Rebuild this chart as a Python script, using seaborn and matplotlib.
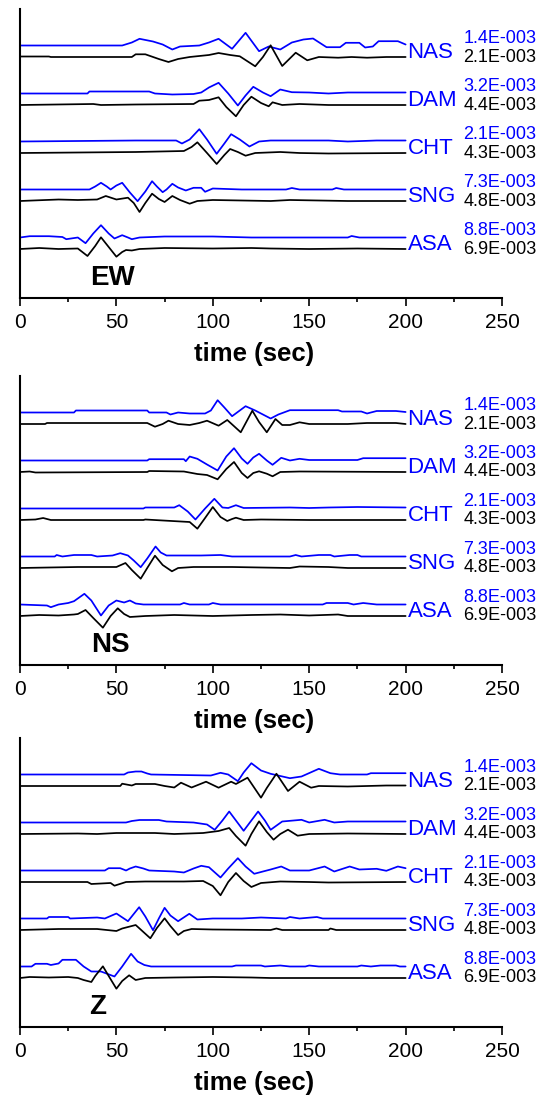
import numpy as np
import pandas as pd
import matplotlib
matplotlib.use("Agg")
import matplotlib.pyplot as plt
import seaborn as sns

sns.set_theme(style="ticks")
plt.rcParams["font.family"] = ["Liberation Sans", "DejaVu Sans"]
plt.rcParams["text.color"] = "black"
plt.rcParams["axes.labelcolor"] = "black"
plt.rcParams["xtick.color"] = "black"

# stations top -> bottom, amplitude scale labels (observed blue / synthetic black)
stations = ["NAS", "DAM", "CHT", "SNG", "ASA"]
amp_obs = ["1.4E-003", "3.2E-003", "2.1E-003", "7.3E-003", "8.8E-003"]
amp_syn = ["2.1E-003", "4.4E-003", "4.3E-003", "4.8E-003", "6.9E-003"]
components = ["EW", "NS", "Z"]
xticks = [0, 50, 100, 150, 200, 250]

# waveforms: (time sec, deflection) pairs
EW_NAS_OBS = [(0, 0), (53, 0), (58, 3), (62, 6.7), (69, 4), (74, 1), (79, -4), (83, -1), (93, 0), (98, 3),
              (103, 6.7), (110, -3.3), (117, 12.7), (124, -5.7), (129, -1), (135, -4), (141, 3), (147, 6),
              (152, 7), (159, -1.7), (166, -1.7), (169, 2.7), (176, 2.7), (179, -2), (183, -1), (186, 4.3),
              (196, 4.3), (200, 1)]
EW_NAS_SYN = [(0, 0.5), (15, 0.5), (16, 0), (58, 0), (60, 2.7), (65, 2.7), (72, -2), (77, -5), (82, -2),
              (88, 0), (93, 1), (98, 2), (103, 4), (109, 2), (114, 0.7), (122, -9.3), (126, 0), (130, 11.7),
              (136, -9), (143, 4.3), (149, -3.3), (155, 0), (165, -0.7), (172, 0), (180, -0.7), (190, 0), (200, 0)]
EW_DAM_OBS = [(0, 0), (35, 0), (36, 2), (67, 2), (70, 0), (79, -1), (90, -0.5), (94, 1), (98, 6), (103, 10.7),
              (108, 0), (113, -12), (117, -2), (121, 6.7), (126, 1), (130, -2.7), (135, 4), (141, 1.3),
              (150, 1), (160, 0), (170, 1), (180, 1), (200, 1)]
EW_DAM_SYN = [(0, 0), (38, 1), (42, 0), (60, 0.5), (90, 1), (93, 4.3), (98, 5), (103, 7.7), (107, -2),
              (112, -11.3), (116, 0), (120, 8.3), (125, 2), (129, -1.3), (131, 2.7), (136, 0), (145, 1),
              (160, 0), (200, 0)]
EW_CHT_OBS = [(0, 0), (60, 1), (81, 1), (84, -2), (88, 2), (93, 12.3), (97, 2), (102, -12.3), (106, -2),
              (109.5, 7.3), (114, 2), (119, -5), (124, 0), (130, 1), (160, 1), (170, 0), (185, 1), (200, 1)]
EW_CHT_SYN = [(0, 0), (60, 1), (85, 2), (89, 6), (92, 10.7), (97, 0), (102, -11), (106, -2), (109, 4),
              (113, 1), (117, -2.7), (122, 0), (135, 1), (145, 0), (160, -0.5), (200, 0)]
EW_SNG_OBS = [(0, 0), (36, 0), (39, 3), (42, 6.7), (45, 3), (47, 0), (50, 4), (53, 6.7), (57, -3),
              (61, -11.7), (65, -2), (68.5, 8.3), (71, 3), (74, -2.7), (76, 0), (79, 5.7), (82, 2), (86, -1),
              (90, 1.7), (94, 1.7), (96, -2.3), (100, 1), (115, 0), (138, 0), (141, 1.5), (145, 0), (162, 0),
              (164, 1.5), (168, 0), (200, 0)]
EW_SNG_SYN = [(0, 0), (20, 1.5), (30, 1), (40, 1.5), (44.5, 5), (50, 1.5), (56, 3.3), (59, -2), (62, -11),
              (65, -2), (68.5, 7.3), (72, 2), (75, -1), (79, 5), (83, 1), (88, -2.7), (92, 0), (100, 1),
              (130, 0), (140, 1), (170, 0), (200, 0)]
EW_ASA_OBS = [(0, 0), (5, 1.3), (15, 1.3), (22, 0.5), (24, -1.7), (30, 0), (34, -5.7), (38, 4), (42, 12.3),
              (46, 4), (49, -1), (53, 2.3), (56, 0), (58, -1.7), (62, 0), (75, 1), (100, 1), (120, 0),
              (170, 0), (172, 1.5), (176, 0), (200, 0)]
EW_ASA_SYN = [(0, 0), (10, 1), (20, 0), (30, 0.5), (35, -7), (39, 3), (42, 11.7), (46, 2), (50, -7.7),
              (53, -3), (55, -1), (58, -1.5), (62, 0), (75, 1), (100, 0.5), (120, 1), (130, 0.5), (150, 0),
              (175, 0.5), (200, 0)]

NS_NAS_OBS = [(0, 0), (28, 0), (29, 2), (66, 2), (67, 0), (76, 0), (78, -2), (82, 0), (88, -1), (96, -1),
              (99, 2), (102.5, 12.3), (106, 5), (110, -3.7), (117, 6.3), (122, 2), (125, -1), (130, -6),
              (134, -2), (140, 2.3), (165, 2.3), (167, 1), (177, 1), (180, -1), (185, 1.5), (195, 1.5),
              (200, 0.5)]
NS_NAS_SYN = [(0, 0), (13, 0), (14, 1), (66, 1), (70, -2.7), (74, 0), (77, 3.3), (82, 0), (88, -1), (93, 1),
              (97, 3.3), (103, -1.7), (107.5, 4), (114.5, -8.3), (120.5, 13.3), (124, 2), (128, -8.3),
              (132.5, 5), (136, -1), (140, -1), (145, 1.7), (150, 0), (170, 0), (180, 1), (195, 1), (200, 0)]
NS_DAM_OBS = [(0, 0), (66, 0), (67, 1.3), (85, 1.3), (86, -0.7), (88, 4), (92, 1.7), (97, -4), (102.5, -10),
              (107, 4), (111, 12.3), (115, 2), (118, -3.3), (121, 3), (124, 6.7), (128, 0), (131, -4.3),
              (135.5, 2.7), (140, 0), (145, 1.7), (150, 0.5), (175, 0.5), (178, 2.3), (200, 2.3)]
NS_DAM_SYN = [(0, 0), (5, 0.5), (8, -0.5), (66, 0), (67, 1), (85, 0.5), (92, -2), (97, -3), (102.5, -7.3),
              (107, 3), (111, 10), (115, -1), (118, -6), (121, -1), (124, 0.7), (128, -1.7), (131, -4.3),
              (135, 0), (145, 0.5), (200, 0)]
NS_CHT_OBS = [(0, 0), (64, 0), (65, 1), (80, 1), (82.6, 3.3), (87, -3), (91, -11), (96, 0), (100.8, 9.7),
              (105, 1), (108, 0.5), (112, 3.3), (116, 0.5), (140, 1), (150, 0.5), (160, 1), (175, 1.5), (200, 1)]
NS_CHT_SYN = [(0, 0), (8, 0.5), (12, 2), (16, 0), (64, 0), (65, 0.5), (88, -2), (92, -8.7), (96, 2),
              (100, 13), (104, 3), (107.5, -1), (110, 1), (112, 2.3), (116, 0), (125, 0.5), (150, 0), (200, 0)]
NS_SNG_OBS = [(0, 0), (18, 0), (19, 1.5), (22, 0), (28, 1.5), (37, 1.5), (40, 0), (48, 1), (52, 3.3),
              (56, 1), (59, -4), (62.6, -10.7), (66, -2), (70.3, 10), (73, 4), (76, 1), (80, 1), (94, 1),
              (104, 1.5), (110, 0), (140, 0), (143, 1.5), (146, 0), (155, 1.5), (161, 1.5), (163, 0),
              (171, 1.5), (175, 1.5), (177, 0), (200, 0)]
NS_SNG_SYN = [(0, 0), (30, 1), (50, 1), (54.7, 5), (58, -2), (62.6, -10.7), (66, 0), (70, 12.3), (74, 3),
              (78.8, -3.3), (82, 0), (90, 1), (110, 1), (140, 0), (145, 1.5), (160, 1), (170, 0), (200, 0)]
NS_ASA_OBS = [(0, 0), (14, -1), (16, -2.7), (20, 0), (25, 1.5), (28, 3.3), (33.4, 10.7), (37, 4), (42, -11),
              (46, -1), (50, 4), (54, 2), (57, 4), (60, 1), (64, 0), (83, 0), (85, 1.5), (88, 0), (98, 0),
              (100, 1.5), (104, 0), (157, 0), (159, 1.5), (170, 1.5), (173, 0), (178, 1.5), (185, 0), (200, 0)]
NS_ASA_SYN = [(0, 0), (10, 1), (20, 0.5), (28, 1.5), (30, 2), (34, 6), (38, -2), (43, -11.7), (47, 0),
              (50.7, 7.7), (54, 2), (57, -1), (65, 0), (80, 1), (100, 0), (120, 1), (135, 1.5), (150, 0.5),
              (165, 1.5), (170, 0), (200, 0)]

Z_NAS_OBS = [(0, 0), (54, 0), (56, 2), (60, 3), (63, 3), (66, 1), (68, 0), (99, -1), (104, 1.7), (108, 0),
             (113, -6.7), (116, 2), (120, 11.3), (125, 4), (130, 0.7), (140, -3.7), (146, -2), (155, 5.7),
             (161, 1.3), (166, 0), (180, 0), (182, 1.3), (200, 1.3)]
Z_NAS_SYN = [(0, 0), (52, 0), (53, 2.3), (58, 0.5), (60, 2), (70, 2), (75, 0), (80, -1.5), (83.5, 3.3),
             (89, -1.5), (96.5, 4.3), (103, -1.7), (109.5, 4.3), (112, 2), (118, 8.3), (125, -11.7),
             (128, -2), (133, 12.3), (139, -5), (145, 4.3), (151, -1.7), (155, 0), (170, -0.5), (190, 0.5),
             (200, 0.5)]
Z_DAM_OBS = [(0, 0), (55, 0), (58, 1.5), (62, 2.5), (72, 2.5), (76, 1), (90, 0), (97, -2), (101, -7.3),
             (105, 2), (108.5, 11), (112, 2), (116, -8.3), (120, 2), (123.5, 11), (127, 2), (130, -7.3),
             (136, 1), (146, 2.7), (150, 0), (158, 2.7), (163, 0), (170, 1), (200, 1)]
Z_DAM_SYN = [(0, 0), (30, 0.5), (40, 0), (50, 1), (70, 1), (80, 0), (95, 1), (103, 3), (108.5, 6),
             (112, -2), (117, -11.7), (120, 0), (124, 12.7), (128, 2), (131.5, -5.7), (135, 0), (139, 4.3),
             (144, -1.7), (150, 0), (170, 0.5), (200, 0)]
Z_CHT_OBS = [(0, 0), (44, 0), (46, 2.3), (52, 2.3), (55, 0), (57, 2), (60, 4), (64, 2), (67, 0), (80, -1),
             (85, -2), (90, 2), (94, 4.7), (98, 3.3), (104, -7), (108, 2), (113, 12.3), (117, 4),
             (121.5, -3.3), (126, -1), (130, 1), (135.5, 4), (140, 0), (150, 0), (158, 4), (163, -1),
             (171, 4), (176, 1), (185, 1.7), (190, -0.3), (196, 4), (200, 2.3)]
Z_CHT_SYN = [(0, 0), (35, 0), (37, -2), (47, -1), (49, -3.7), (55, 0), (65, 0.5), (85, 0.5), (95, 1),
             (100, -4), (104, -13.3), (108, 0), (112, 9), (116, 1), (120, -5), (125, -1), (135, 0.5),
             (150, 0), (160, -0.5), (200, 0)]
Z_SNG_OBS = [(0, 0), (14, 0), (15, 1.5), (25, 1.5), (26, 0), (40, 1), (44, 0), (50, 5), (56, -2.7),
             (61.8, 11.3), (65, 2), (69, -11.7), (72, 0), (75, 10.7), (78, 3), (82, -2.7), (87.8, 4.7),
             (92, -1), (100, 0), (115, 0), (125, 1), (138, 0), (140, 1.5), (145, 0), (154, 1.5), (157, 0),
             (200, 0)]
Z_SNG_SYN = [(0, 0), (20, 1), (40, 1), (50, -1), (53, 1.5), (60, 5), (64, -2), (67.6, -8.3), (71, 2),
             (75, 11.7), (78, 4), (82, -5), (85, -1), (89, 1), (100, 0.5), (130, 0), (133, 1.5), (136, 0),
             (160, 0), (161, 1.5), (164, 0), (200, 0)]
Z_ASA_OBS = [(0, 0), (6, 0), (8, 2.7), (14, 2.7), (16, 1.5), (20, 3), (22, 6.7), (29, 6.7), (33, 0),
             (37, -5), (42, -5), (49, -10), (53, 0), (57.6, 12.7), (61, 5), (64.5, 1.5), (68, 0), (110, 0),
             (112, 1), (125, 1), (127, 0), (135, 1), (140, 0), (148, 0), (150, 1), (155, 0), (175, 0),
             (177, 1), (182, 0), (187, 1), (195, 1), (197, 0), (200, 0)]
Z_ASA_SYN = [(0, 0), (5, 1), (15, 0.5), (25, 1), (30, 0), (33, -2), (37, -4), (39, 2), (43, 11.7), (46, 2),
             (50, -10.7), (53, -3), (56.6, 2.7), (60, -2), (65, 0), (80, 0.5), (100, 1), (120, 0.5),
             (130, 0), (200, 0)]

waves = {
    "EW": {"NAS": (EW_NAS_OBS, EW_NAS_SYN), "DAM": (EW_DAM_OBS, EW_DAM_SYN), "CHT": (EW_CHT_OBS, EW_CHT_SYN),
           "SNG": (EW_SNG_OBS, EW_SNG_SYN), "ASA": (EW_ASA_OBS, EW_ASA_SYN)},
    "NS": {"NAS": (NS_NAS_OBS, NS_NAS_SYN), "DAM": (NS_DAM_OBS, NS_DAM_SYN), "CHT": (NS_CHT_OBS, NS_CHT_SYN),
           "SNG": (NS_SNG_OBS, NS_SNG_SYN), "ASA": (NS_ASA_OBS, NS_ASA_SYN)},
    "Z": {"NAS": (Z_NAS_OBS, Z_NAS_SYN), "DAM": (Z_DAM_OBS, Z_DAM_SYN), "CHT": (Z_CHT_OBS, Z_CHT_SYN),
          "SNG": (Z_SNG_OBS, Z_SNG_SYN), "ASA": (Z_ASA_OBS, Z_ASA_SYN)},
}

# vertical layout of the record section (axis units = pixels above the time axis)
step = 48
obs_base = 60.5
syn_base = 49

rows = []
for comp in components:
    for i, st in enumerate(stations):
        k = len(stations) - 1 - i
        obs, syn = waves[comp][st]
        for kind, pts, base in [("obs", obs, obs_base), ("syn", syn, syn_base)]:
            for t, dy in pts:
                rows.append({"comp": comp, "station": st, "kind": kind, "trace": st + kind,
                             "t": t, "y": base + step * k + dy})
df = pd.DataFrame(rows)

W, H = 541, 1095
fig = plt.figure(figsize=(W / 100, H / 100), dpi=100)
bottoms = [298, 665, 1027]
label_pos = {"EW": 48, "NS": 47, "Z": 40.5}
blue = "#0000ff"

for comp, yb in zip(components, bottoms):
    ax = fig.add_axes([20 / W, (H - yb) / H, 482 / W, 289 / H])
    sub = df[df["comp"] == comp]
    sns.lineplot(data=sub, x="t", y="y", hue="kind", units="trace", estimator=None, sort=False,
                 palette={"obs": blue, "syn": "black"}, legend=False, linewidth=1.25, ax=ax)
    ax.set_xlim(0, 250)
    ax.set_ylim(0, 289)
    ax.set_yticks([])
    ax.set_ylabel("")
    ax.set_xticks(xticks)
    ax.set_xticks([25, 75, 125, 175, 225], minor=True)
    ax.tick_params(axis="x", which="major", direction="out", length=6, width=1.2, labelsize=15,
                   colors="black", labelcolor="black", pad=5)
    ax.tick_params(axis="x", which="minor", direction="out", length=3, width=1.2)
    for side in ["top", "right"]:
        ax.spines[side].set_visible(False)
    for side in ["left", "bottom"]:
        ax.spines[side].set_linewidth(1.5)
        ax.spines[side].set_color("black")
    ax.set_xlabel("time (sec)", fontsize=18.5, fontweight="bold", color="black")
    ax.xaxis.set_label_coords(0.486, -0.152)
    ax.patch.set_alpha(0)

    for i, st in enumerate(stations):
        k = len(stations) - 1 - i
        yo = obs_base + step * k
        ys = syn_base + step * k
        ax.text(201, (yo + ys) / 2 - 1, st, color=blue, fontsize=16, ha="left", va="center", clip_on=False)
        ax.text(230, yo + 7, amp_obs[i], color=blue, fontsize=13, ha="left", va="center", clip_on=False)
        ax.text(230, ys, amp_syn[i], color="black", fontsize=13, ha="left", va="center", clip_on=False)

    ax.text(label_pos[comp], 20, comp, fontsize=20, fontweight="bold", color="black",
            ha="center", va="center")

fig.savefig("out.png", dpi=100)
